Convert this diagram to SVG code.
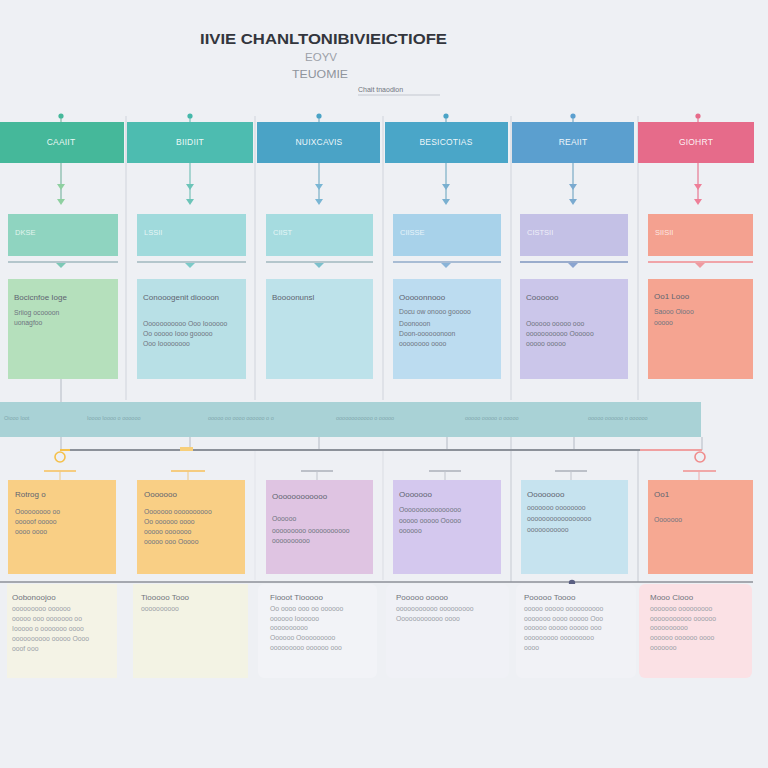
<svg xmlns="http://www.w3.org/2000/svg" width="768" height="768" viewBox="0 0 768 768">
<defs>
<style>
.t{font-family:"Liberation Sans",Arial,sans-serif}
.hd{font-family:"Liberation Sans",Arial,sans-serif;font-size:8.5px;fill:#ffffff;fill-opacity:0.92;text-anchor:middle;letter-spacing:0.2px}
.lb{font-family:"Liberation Sans",Arial,sans-serif;font-size:7.5px;fill:#ffffff;fill-opacity:0.75}
.h{font-family:"Liberation Sans",Arial,sans-serif;font-size:8px;fill:#5e6470}
.s{font-family:"Liberation Sans",Arial,sans-serif;font-size:6.8px;fill:#6e7480}
.bh{font-family:"Liberation Sans",Arial,sans-serif;font-size:8px;fill:#70747c}
.bs{font-family:"Liberation Sans",Arial,sans-serif;font-size:6.8px;fill:#9a9ea6}
.bt{font-family:"Liberation Sans",Arial,sans-serif;font-size:5.5px;fill:#7fa7ad}
.div{stroke:#d6d9e0;stroke-width:1.2}
.sep{stroke:#b4c6cc;stroke-width:2}
</style>
</defs>
<rect width="768" height="768" fill="#eef0f4"/>

<!-- title -->
<text class="t" x="200" y="44" font-size="15" font-weight="bold" fill="#33363d" textLength="247" lengthAdjust="spacingAndGlyphs">IIVIE CHANLTONIBIVIEICTIOFE</text>
<text class="t" x="305" y="61" font-size="10" fill="#9ca0a8" textLength="32" lengthAdjust="spacingAndGlyphs">EOYV</text>
<text class="t" x="292" y="78" font-size="10.5" fill="#8f949c" textLength="56" lengthAdjust="spacingAndGlyphs">TEUOMIE</text>
<text class="t" x="358" y="92" font-size="7" fill="#70757e">Chait tnaodion</text>
<line x1="358" y1="95" x2="440" y2="95" stroke="#c4c8d0" stroke-width="1"/>

<!-- column dividers -->
<g id="dividers">
<line class="div" x1="126" y1="116" x2="126" y2="400"/>
<line class="div" x1="255" y1="116" x2="255" y2="400"/>
<line class="div" x1="383" y1="116" x2="383" y2="400"/>
<line class="div" x1="511" y1="116" x2="511" y2="400"/>
<line class="div" x1="638" y1="116" x2="638" y2="400"/>
<line x1="255" y1="450" x2="255" y2="580" stroke="#e2e4ea" stroke-width="1"/>
<line x1="383" y1="450" x2="383" y2="580" stroke="#dadde3" stroke-width="1"/>
<line x1="511" y1="437" x2="511" y2="582" stroke="#c6cad2" stroke-width="1"/>
<line x1="638" y1="450" x2="638" y2="582" stroke="#c6cad2" stroke-width="1"/>
</g>

<!-- connectors -->
<g id="connectors" stroke-width="1.4" fill="none">
<g stroke="#8fbfb0"><line x1="61" y1="116" x2="61" y2="122"/><line x1="61" y1="163" x2="61" y2="202"/></g>
<g stroke="#88c8c0"><line x1="190" y1="116" x2="190" y2="122"/><line x1="190" y1="163" x2="190" y2="202"/></g>
<g stroke="#8ab8cc"><line x1="319" y1="116" x2="319" y2="122"/><line x1="319" y1="163" x2="319" y2="202"/></g>
<g stroke="#8ab8cc"><line x1="446" y1="116" x2="446" y2="122"/><line x1="446" y1="163" x2="446" y2="202"/></g>
<g stroke="#8ab4cc"><line x1="573" y1="116" x2="573" y2="122"/><line x1="573" y1="163" x2="573" y2="202"/></g>
<g stroke="#e889a0"><line x1="698" y1="116" x2="698" y2="122"/><line x1="698" y1="163" x2="698" y2="202"/></g>
<g stroke="none">
<circle cx="61" cy="116" r="2.6" fill="#45b89a"/><circle cx="190" cy="116" r="2.6" fill="#45b8aa"/>
<circle cx="319" cy="116" r="2.6" fill="#4aa3c6"/><circle cx="446" cy="116" r="2.6" fill="#4aa3c6"/>
<circle cx="573" cy="116" r="2.6" fill="#5b9fcf"/><circle cx="698" cy="116" r="2.6" fill="#e66b8a"/>
<path d="M57,184 L65,184 L61,190 Z M57,199 L65,199 L61,205 Z" fill="#8ed0a0"/>
<path d="M186,184 L194,184 L190,190 Z M186,199 L194,199 L190,205 Z" fill="#6cc4b8"/>
<path d="M315,184 L323,184 L319,190 Z M315,199 L323,199 L319,205 Z" fill="#7ab6d4"/>
<path d="M442,184 L450,184 L446,190 Z M442,199 L450,199 L446,205 Z" fill="#7ab0d0"/>
<path d="M569,184 L577,184 L573,190 Z M569,199 L577,199 L573,205 Z" fill="#7aaad0"/>
<path d="M694,184 L702,184 L698,190 Z M694,199 L702,199 L698,205 Z" fill="#ee7f98"/>
</g>
<!-- separators under row 2 -->
<line class="sep" x1="8" y1="262" x2="118" y2="262"/>
<line class="sep" x1="137" y1="262" x2="246" y2="262"/>
<line class="sep" x1="266" y1="262" x2="373" y2="262"/>
<line x1="393" y1="262" x2="501" y2="262" stroke="#a8bcd4" stroke-width="2"/>
<line x1="520" y1="262" x2="628" y2="262" stroke="#9aaccc" stroke-width="2"/>
<line x1="648" y1="262" x2="753" y2="262" stroke="#f0a4a8" stroke-width="2"/>
<g stroke="none">
<path d="M56,263 L66,263 L61,268 Z" fill="#7cc8b6"/>
<path d="M185,263 L195,263 L190,268 Z" fill="#7ccac8"/>
<path d="M314,263 L324,263 L319,268 Z" fill="#7cc0cc"/>
<path d="M441,263 L451,263 L446,268 Z" fill="#8ab4d8"/>
<path d="M568,263 L578,263 L573,268 Z" fill="#8aa4d0"/>
<path d="M695,263 L705,263 L700,268 Z" fill="#ee9aa0"/>
</g>
<!-- to band -->
<g stroke="#b4bac4" stroke-width="1">
<line x1="61" y1="378" x2="61" y2="402"/>
<line x1="61" y1="437" x2="61" y2="451"/>
<line x1="190" y1="437" x2="190" y2="450"/>
<line x1="319" y1="437" x2="319" y2="450"/>
<line x1="447" y1="437" x2="447" y2="450"/>
<line x1="574" y1="437" x2="574" y2="450"/>
<line x1="702" y1="437" x2="702" y2="450"/>
</g>
<line x1="60" y1="450" x2="702" y2="450" stroke="#8c9199" stroke-width="2"/>
<line x1="640" y1="450" x2="702" y2="450" stroke="#f0a0a0" stroke-width="2"/>
<line x1="60" y1="450" x2="70" y2="450" stroke="#f5c04a" stroke-width="2"/>
<rect x="180" y="447" width="13" height="4" fill="#f7cf7a" stroke="none"/>
<circle cx="60" cy="457" r="5" stroke="#f5c04a" stroke-width="1.6"/>
<circle cx="700" cy="457" r="5" stroke="#f08c8c" stroke-width="1.6"/>
<!-- dashes above row 4 -->
<line x1="44" y1="471" x2="76" y2="471" stroke="#f5cc80" stroke-width="2"/>
<line x1="171" y1="471" x2="205" y2="471" stroke="#f5cc80" stroke-width="2"/>
<line x1="301" y1="471" x2="333" y2="471" stroke="#bcc0c8" stroke-width="2"/>
<line x1="429" y1="471" x2="461" y2="471" stroke="#bcc0c8" stroke-width="2"/>
<line x1="555" y1="471" x2="587" y2="471" stroke="#bcc0c8" stroke-width="2"/>
<line x1="683" y1="471" x2="716" y2="471" stroke="#f0a8a8" stroke-width="2"/>
<g stroke-width="1">
<line x1="60" y1="471" x2="60" y2="480" stroke="#f0c880"/>
<line x1="188" y1="471" x2="188" y2="480" stroke="#f0c880"/>
<line x1="317" y1="471" x2="317" y2="480" stroke="#c0c4cc"/>
<line x1="445" y1="471" x2="445" y2="480" stroke="#c0c4cc"/>
<line x1="571" y1="471" x2="571" y2="480" stroke="#c0c4cc"/>
<line x1="699" y1="471" x2="699" y2="480" stroke="#f0a8a8"/>
</g>
<line x1="0" y1="582" x2="753" y2="582" stroke="#8c9199" stroke-width="1.6"/>
<circle cx="572" cy="583" r="3.2" fill="#5a5f82" stroke="none"/>
<path d="M441,584 L447,584 L444,588 Z" fill="#b8bcc8" stroke="none"/>
</g>

<!-- band -->
<g id="band">
<rect x="0" y="402" width="701" height="35" fill="#a9d2d6"/>
<text class="bt" x="4" y="420">Oiooo Ioot</text>
<text class="bt" x="87" y="420">Ioooo Ioooo o oooooo</text>
<text class="bt" x="208" y="420">ooooo oo oooo oooooo o o</text>
<text class="bt" x="336" y="420">oooooooooooo o ooooo</text>
<text class="bt" x="465" y="420">ooooo ooooo o ooooo</text>
<text class="bt" x="588" y="420">ooooo oooooo o oooooo</text>
</g>

<!-- column 1 -->
<g id="col1">
<rect x="0" y="122" width="124" height="41" fill="#45b89a"/>
<text class="hd" x="61" y="145">CAAIIT</text>
<rect x="8" y="214" width="110" height="42" fill="#8fd4c0"/>
<text class="lb" x="15" y="235">DKSE</text>
<rect x="8" y="279" width="110" height="100" fill="#b5e0bc"/>
<text class="h" x="14" y="300">Bocicnfoe Ioge</text>
<text class="s" x="14" y="315">Sriiog ocoooon</text>
<text class="s" x="14" y="325">uonagfoo</text>
<rect x="8" y="480" width="108" height="94" fill="#f9cf85"/>
<text class="h" x="15" y="497">Rotrog o</text>
<text class="s" x="15" y="514">Ooooooooo oo</text>
<text class="s" x="15" y="524">ooooof ooooo</text>
<text class="s" x="15" y="534">oooo oooo</text>
<rect x="7" y="584" width="110" height="94" fill="#f4f3e6"/>
<text class="bh" x="12" y="600">Oobonoojoo</text>
<text class="bs" x="12" y="611">ooooooooo oooooo</text>
<text class="bs" x="12" y="621">ooooo ooo ooooooo oo</text>
<text class="bs" x="12" y="631">Iooooo o ooooooo oooo</text>
<text class="bs" x="12" y="641">oooooooooo ooooo Oooo</text>
<text class="bs" x="12" y="651">ooof ooo</text>
</g>

<!-- column 2 -->
<g id="col2">
<rect x="127" y="122" width="126" height="41" fill="#4dbcb0"/>
<text class="hd" x="190" y="145">BIIDIIT</text>
<rect x="137" y="214" width="109" height="42" fill="#a0dadc"/>
<text class="lb" x="144" y="235">LSSII</text>
<rect x="137" y="279" width="109" height="100" fill="#b8e0e6"/>
<text class="h" x="143" y="300">Conooogenit dioooon</text>
<text class="s" x="143" y="326">Ooooooooooo Ooo Ioooooo</text>
<text class="s" x="143" y="336">Oo ooooo Iooo gooooo</text>
<text class="s" x="143" y="346">Ooo Ioooooooo</text>
<rect x="137" y="480" width="108" height="94" fill="#f9cf85"/>
<text class="h" x="144" y="497">Ooooooo</text>
<text class="s" x="144" y="514">Ooooooo oooooooooo</text>
<text class="s" x="144" y="524">Oo oooooo oooo</text>
<text class="s" x="144" y="534">ooooo ooooooo</text>
<text class="s" x="144" y="544">ooooo ooo Ooooo</text>
<rect x="133" y="584" width="115" height="94" fill="#f3f3e4"/>
<text class="bh" x="141" y="600">Tiooooo Tooo</text>
<text class="bs" x="141" y="611">oooooooooo</text>
</g>

<!-- column 3 -->
<g id="col3">
<rect x="257" y="122" width="123" height="41" fill="#4aa3c6"/>
<text class="hd" x="319" y="145">NUIXCAVIS</text>
<rect x="266" y="214" width="107" height="42" fill="#a6dce0"/>
<text class="lb" x="273" y="235">CIIST</text>
<rect x="266" y="279" width="107" height="100" fill="#bde2ea"/>
<text class="h" x="272" y="300">Boooonunsl</text>
<rect x="266" y="480" width="107" height="94" fill="#dfc4e2"/>
<text class="h" x="272" y="499">Oooooooooooo</text>
<text class="s" x="272" y="521">Oooooo</text>
<text class="s" x="272" y="533">ooooooooo ooooooooooo</text>
<text class="s" x="272" y="543">oooooooooo</text>
<rect x="258" y="584" width="119" height="94" rx="6" fill="#f2f3f7"/>
<text class="bh" x="270" y="600">Fiooot Tiooooo</text>
<text class="bs" x="270" y="611">Oo oooo ooo oo oooooo</text>
<text class="bs" x="270" y="621">oooooo Ioooooo</text>
<text class="bs" x="270" y="630">oooooooooo</text>
<text class="bs" x="270" y="640">Oooooo Oooooooooo</text>
<text class="bs" x="270" y="650">ooooooooo oooooo ooo</text>
</g>

<!-- column 4 -->
<g id="col4">
<rect x="385" y="122" width="123" height="41" fill="#4aa6c8"/>
<text class="hd" x="446" y="145">BESICOTIAS</text>
<rect x="393" y="214" width="108" height="42" fill="#a8d2ea"/>
<text class="lb" x="400" y="235">CIISSE</text>
<rect x="393" y="279" width="108" height="100" fill="#bcdcf0"/>
<text class="h" x="399" y="300">Ooooonnooo</text>
<text class="s" x="399" y="314">Docu ow onooo gooooo</text>
<text class="s" x="399" y="326">Doonooon</text>
<text class="s" x="399" y="336">Doon-oooooonoon</text>
<text class="s" x="399" y="346">oooooooo oooo</text>
<rect x="393" y="480" width="108" height="94" fill="#d4c8ee"/>
<text class="h" x="399" y="497">Ooooooo</text>
<text class="s" x="399" y="512">Oooooooooooooooo</text>
<text class="s" x="399" y="523">ooooo ooooo Ooooo</text>
<text class="s" x="399" y="533">oooooo</text>
<rect x="386" y="584" width="123" height="94" rx="6" fill="#f0f1f6"/>
<text class="bh" x="396" y="600">Pooooo ooooo</text>
<text class="bs" x="396" y="611">ooooooooooo ooooooooo</text>
<text class="bs" x="396" y="621">Oooooooooooo oooo</text>
</g>

<!-- column 5 -->
<g id="col5">
<rect x="512" y="122" width="122" height="41" fill="#5b9fcf"/>
<text class="hd" x="573" y="145">REAIIT</text>
<rect x="520" y="214" width="108" height="42" fill="#c4c1e6"/>
<text class="lb" x="527" y="235">CISTSII</text>
<rect x="520" y="279" width="108" height="100" fill="#cbc6ea"/>
<text class="h" x="526" y="300">Coooooo</text>
<text class="s" x="526" y="326">Oooooo ooooo ooo</text>
<text class="s" x="526" y="336">ooooooooooo Oooooo</text>
<text class="s" x="526" y="346">ooooo ooooo</text>
<rect x="521" y="480" width="107" height="94" fill="#c6e3ef"/>
<text class="h" x="527" y="497">Oooooooo</text>
<text class="s" x="527" y="510">ooooooo oooooooo</text>
<text class="s" x="527" y="521">ooooooooooooooooo</text>
<text class="s" x="527" y="532">ooooooooooo</text>
<rect x="516" y="584" width="120" height="94" rx="6" fill="#f1f2f6"/>
<text class="bh" x="524" y="600">Pooooo Toooo</text>
<text class="bs" x="524" y="611">ooooo ooooo oooooooooo</text>
<text class="bs" x="524" y="621">ooooooo oooo ooooo Ooo</text>
<text class="bs" x="524" y="630">oooooo ooooo ooooo ooo</text>
<text class="bs" x="524" y="640">ooooooooo ooooooooo</text>
<text class="bs" x="524" y="650">oooo</text>
</g>

<!-- column 6 -->
<g id="col6">
<rect x="638" y="122" width="116" height="41" fill="#e66b8a"/>
<text class="hd" x="696" y="145">GIOHRT</text>
<rect x="648" y="214" width="105" height="42" fill="#f4a190"/>
<text class="lb" x="655" y="235">SIISII</text>
<rect x="648" y="279" width="105" height="100" fill="#f5a491"/>
<text class="h" x="654" y="299">Oo1 Looo</text>
<text class="s" x="654" y="314">Saooo Oiooo</text>
<text class="s" x="654" y="325">ooooo</text>
<rect x="648" y="480" width="105" height="94" fill="#f6a892"/>
<text class="h" x="654" y="497">Oo1</text>
<text class="s" x="654" y="522">Ooooooo</text>
<rect x="639" y="584" width="113" height="94" rx="6" fill="#fbe1e5"/>
<text class="bh" x="650" y="600">Mooo Ciooo</text>
<text class="bs" x="650" y="611">ooooooo ooooooooo</text>
<text class="bs" x="650" y="621">ooooooooooo oooooo</text>
<text class="bs" x="650" y="630">oooooooooo</text>
<text class="bs" x="650" y="640">oooooo oooooo oooo</text>
<text class="bs" x="650" y="650">ooooooo</text>
</g>
</svg>
